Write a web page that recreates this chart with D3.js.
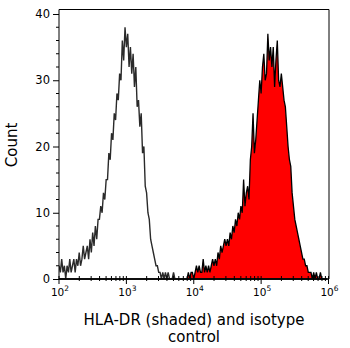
<!DOCTYPE html>
<html><head><meta charset="utf-8">
<script src="https://cdn.jsdelivr.net/npm/d3@7"></script>
<style>body{margin:0;background:#fff}svg{display:block}text{font-family:"DejaVu Sans",sans-serif}</style>
</head><body><svg id="c" width="350" height="348"></svg>
<script>
// channel grid: log10 start and step
const logStart = 2, logStep = 0.02;
// isotype control counts per channel
const isotype = [
2,1,3,1,2,0,2,1,3,1, 2,3,1,3,2,4,2,3,5,3, 4,5,3,6,4,7,5,8,6,9,
9,11,10,13,12,15,15,19,18,22, 21,25,24,28,27,31,30,36,33,38,
35,37,32,35,31,34,29,32,26,27, 23,25,19,20,14,13,10,9,6,5,
4,3,2,2,1,1,0,1,0,1, 0,1,0,0,0,1,0,0,0,0,
0,0,0,0,0,0,0,0,0,0, 0,0,0,0,0,0,0,0,0,0, 0,0,0,0,0,0,0,0,0,0,
0,0,0,0,0,0,0,0,0,0, 0,0,0,0,0,0,0,0,0,0, 0,0,0,0,0,0,0,0,0,0,
0,0,0,0,0,0,0,0,0,0, 0,0,0,0,0,0,0,0,0,0, 0,0,0,0,0,0,0,0,0,0,
0,0,0,0,0,0,0,0,0,0, 0,0,0,0,0,0,0,0,0,0
];
// HLA-DR (shaded) counts per channel
const hlaDR = [
0,0,0,0,0,0,0,0,0,0, 0,0,0,0,0,0,0,0,0,0, 0,0,0,0,0,0,0,0,0,0,
0,0,0,0,0,0,0,0,0,0, 0,0,0,0,0,0,0,0,0,0, 0,0,0,0,0,0,0,0,0,0,
0,0,0,0,0,0,0,0,0,0, 0,0,0,0,0,0,0,0,0,0, 0,0,0,0,0,0,0,0,0,0,
0,0,0,0,0,0,1,0,1,1,
0,1,2,1,2,1,1,3,1,2, 1,2,1,2,3,2,3,2,4,3, 5,4,5,6,5,6,5,7,6,8,
7,9,8,10,9,11,10,15,11,13, 14,12,18,20,25,19,21,24,27,30,
28,32,34,30,31,37,33,35,32,35, 29,33,36,30,29,31,29,27,26,23,
20,18,17,13,11,9,8,7,6,5, 4,3,3,2,2,1,1,1,0,1,
0,1,0,0,1,0,0,0,0,0
];
const xMajorTicks = [2,3,4,5,6];
const yMajorTicks = [0,10,20,30,40];
const yMinorTicks = [2,4,6,8,12,14,16,18,22,24,26,28,32,34,36,38];
const xTitle1 = "HLA-DR (shaded) and isotype", xTitle2 = "control", yTitle = "Count";

const svg = d3.select("#c");
const L = 59, R = 329, T = 9.5, B = 279;
const x = d3.scaleLinear().domain([2,6]).range([L, 328.5]);
const y = d3.scaleLinear().domain([0,40.68]).range([B, T]);
const chan = d3.range(isotype.length).map(i => logStart + i*logStep);

svg.append("clipPath").attr("id","clip").append("rect").attr("x",L).attr("y",T).attr("width",R-L).attr("height",B-T+1);
const g = svg.append("g").attr("clip-path","url(#clip)");

const area = d3.area().x((d,i)=>x(chan[i])).y0(y(0)).y1(d=>y(d));
g.append("path").datum(hlaDR).attr("d",area).attr("fill","#ff0000").attr("stroke","#000").attr("stroke-width",1.3).attr("stroke-linejoin","miter");
const line = d3.line().x((d,i)=>x(chan[i])).y(d=>y(d));
g.append("path").datum(isotype).attr("d",line).attr("fill","none").attr("stroke","#2a2a2a").attr("stroke-width",1.4);

// frame
svg.append("path").attr("d",`M${L},${B}V${T}H${R}V${B}`).attr("fill","none").attr("stroke","#000").attr("stroke-width",1);
svg.append("line").attr("x1",L).attr("x2",R).attr("y1",B).attr("y2",B).attr("stroke","#000").attr("stroke-width",1.5);

// y axis
const ya = svg.append("g").attr("transform",`translate(${L},0)`).call(d3.axisLeft(y).tickValues(yMajorTicks).tickSize(6).tickPadding(3));
ya.select(".domain").remove();
ya.selectAll("text").attr("font-size",11.5).attr("font-family","DejaVu Sans").attr("fill","#000");
svg.append("g").selectAll("line").data(yMinorTicks).join("line")
  .attr("x1",L-3).attr("x2",L).attr("y1",d=>y(d)).attr("y2",d=>y(d)).attr("stroke","#000");

// x axis
const xMinor = [];
for (let n=2;n<6;n++) for (let k=2;k<10;k++) xMinor.push(n+Math.log10(k));
svg.append("g").selectAll("line").data(xMinor).join("line")
  .attr("x1",d=>x(d)).attr("x2",d=>x(d)).attr("y1",B-3).attr("y2",B+2).attr("stroke","#000");
svg.append("g").selectAll("line").data(xMajorTicks).join("line")
  .attr("x1",d=>x(d)).attr("x2",d=>x(d)).attr("y1",B-3).attr("y2",B+5).attr("stroke","#000");
const xl = svg.append("g").selectAll("text").data(xMajorTicks).join("text")
  .attr("x",d=>x(d)+1).attr("y",296).attr("text-anchor","middle").attr("font-size",10.5);
xl.append("tspan").text("10");
xl.append("tspan").attr("dy",-5).attr("font-size",7.5).text(d=>d);

// titles
svg.append("text").attr("x",194).attr("y",325).attr("text-anchor","middle").attr("font-size",15).text(xTitle1);
svg.append("text").attr("x",194).attr("y",342).attr("text-anchor","middle").attr("font-size",15).text(xTitle2);
svg.append("text").attr("transform","translate(17,145) rotate(-90)").attr("text-anchor","middle").attr("font-size",15).text(yTitle);
</script></body></html>
